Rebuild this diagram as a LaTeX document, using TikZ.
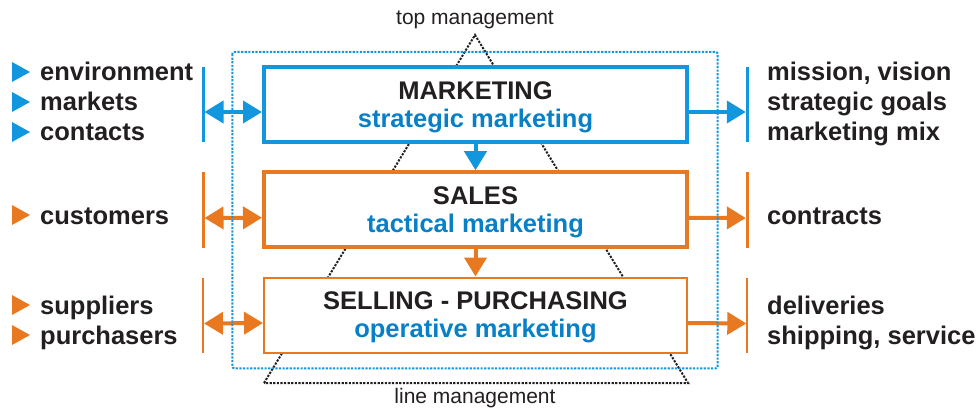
\documentclass[tikz,border=0pt]{standalone}
\usepackage{fontspec}
\setmainfont{Liberation Sans}
\usetikzlibrary{arrows.meta}
\definecolor{mblue}{RGB}{18,150,222}
\definecolor{tblue}{RGB}{8,128,200}
\definecolor{morange}{RGB}{232,121,32}
\definecolor{ink}{RGB}{35,31,32}

\begin{document}
\begin{tikzpicture}[x=1pt,y=-1pt,>={Triangle[length=19pt,width=22pt]},
  big/.style={font=\fontsize{25.5}{28}\selectfont\bfseries,text=ink},
  small/.style={font=\fontsize{21}{24}\selectfont,text=ink},
  box/.style={draw=#1,fill=white,minimum width=423pt,minimum height=75pt,
    inner sep=0pt,align=center,text depth=0pt,big},
  bar/.style={fill=#1,minimum width=3pt,minimum height=75pt,inner sep=0pt,outer sep=0pt},
  pointer/.style={minimum width=18pt,minimum height=20pt,inner sep=0pt,outer sep=0pt,
    path picture={\fill[#1] (path picture bounding box.north west)
      -- (path picture bounding box.east) -- (path picture bounding box.south west) -- cycle;}},
  item/.style={anchor=base west,inner sep=0pt,big},
  link/.style={#1,line width=4pt,->},
  both/.style={#1,line width=4pt,<->},
  dots/.style={line width=2pt,dash pattern=on 2.2pt off 1.4pt}]
  \useasboundingbox (0,0) rectangle (980,409);

  % management triangle behind the boxes
  \node[small] (topm) at (475,20) {top management};
  \node[small] (linem) at (475,398) {line management};
  \coordinate (apex) at (475,35);
  \coordinate (bl) at (264,383);
  \coordinate (br) at (688,383);
  \draw[dots,ink] (bl) -- (apex) -- (br) -- cycle;

  % the three levels
  \node[box=mblue,line width=4pt] (mkt) at (475.5,104.5) {MARKETING\\\textcolor{tblue}{strategic marketing}};
  \node[box=morange,line width=4pt] (sal) at (475.5,209.75) {SALES\\\textcolor{tblue}{tactical marketing}};
  \node[box=morange,line width=2pt] (sel) at (475.5,315) {SELLING - PURCHASING\\\textcolor{tblue}{operative marketing}};
  \draw[link=mblue] (mkt) -- (sal);
  \draw[link=morange] (sal) -- (sel);

  % bars left and right
  \node[bar=mblue] (lb1) at (203,104.5) {};
  \node[bar=morange] (lb2) at (203,210) {};
  \node[bar=morange,minimum width=2pt] (lb3) at (203,315.5) {};
  \node[bar=mblue] (rb1) at (747.3,104.5) {};
  \node[bar=morange] (rb2) at (747.3,210) {};
  \node[bar=morange,minimum width=2pt] (rb3) at (747.3,315.5) {};

  \draw[both=mblue] ([yshift=-7.5pt]lb1.east) -- ([yshift=-7.5pt]mkt.west);
  \draw[both=morange] ([yshift=-8pt]lb2.east) -- ([yshift=-8pt]sal.west);
  \draw[both=morange] ([yshift=-8pt]lb3.east) -- ([yshift=-8pt]sel.west);
  \draw[link=mblue] ([yshift=-7.5pt]mkt.east) -- ([yshift=-7.5pt]rb1.west);
  \draw[link=morange] ([yshift=-8pt]sal.east) -- ([yshift=-8pt]rb2.west);
  \draw[link=morange] ([yshift=-8pt]sel.east) -- ([yshift=-8pt]rb3.west);

  \draw[dots,mblue,rounded corners=2pt] (232.3,52) rectangle (717.7,368.3);

  % inputs
  \node[pointer=mblue] (p1) at (21,72) {};
  \node[pointer=mblue] (p2) at (21,102) {};
  \node[pointer=mblue] (p3) at (21,132) {};
  \node[pointer=morange] (p4) at (21,215) {};
  \node[pointer=morange] (p5) at (21,305) {};
  \node[pointer=morange] (p6) at (21,335) {};
  \node[item] (env) at (40,81) {environment};
  \node[item] (mar) at (40,111) {markets};
  \node[item] (con) at (40,141) {contacts};
  \node[item] (cus) at (40,224) {customers};
  \node[item] (sup) at (40,314) {suppliers};
  \node[item] (pur) at (40,344) {purchasers};

  % outputs
  \node[item] (mis) at (767,81) {mission, vision};
  \node[item] (goa) at (767,111) {strategic goals};
  \node[item] (mix) at (767,141) {marketing mix};
  \node[item] (ctr) at (767,224) {contracts};
  \node[item] (del) at (767,314) {deliveries};
  \node[item] (shi) at (767,344) {shipping, service};
\end{tikzpicture}
\end{document}
